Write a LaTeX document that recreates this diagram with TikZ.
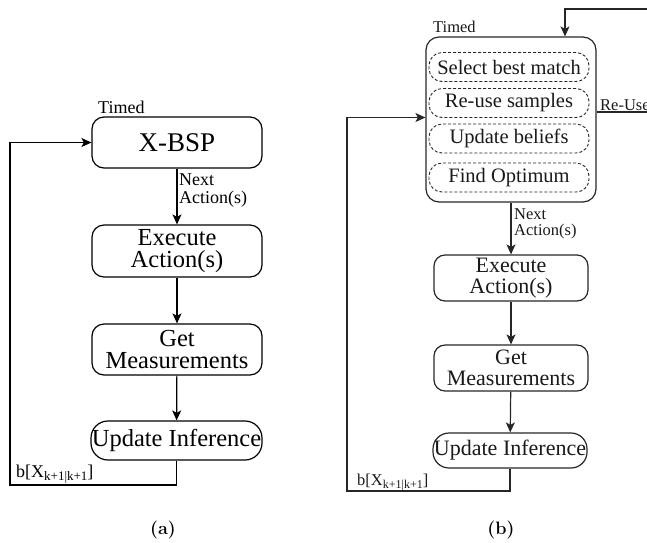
\documentclass[tikz,border=0pt]{standalone}
\usepackage{fontspec}
\setmainfont{Liberation Serif}
\newfontfamily\lmr{Latin Modern Roman}
\usetikzlibrary{arrows.meta}
\tikzset{
  arr/.style={-{Stealth[length=10pt,width=9pt,inset=2.5pt]}, line width=1.2pt},
  lbox/.style={draw, line width=1.2pt, rounded corners=12pt, minimum width=170pt, inner sep=0pt, align=center, font=\rmfamily\fontsize{24.5}{22.5}\selectfont},
  rbox/.style={draw, line width=1.2pt, rounded corners=11pt, minimum width=154pt, minimum height=46pt, inner sep=0pt, align=center, font=\rmfamily\fontsize{22}{20.5}\selectfont},
  dbox/.style={draw, line width=0.9pt, dash pattern=on 3pt off 2pt, rounded corners=13pt, minimum width=160pt, minimum height=29pt, inner sep=0pt, font=\rmfamily\fontsize{20.5}{20}\selectfont},
  lsmall/.style={inner sep=0pt, align=left, font=\rmfamily\fontsize{18}{18}\selectfont},
  rsmall/.style={inner sep=0pt, align=left, font=\rmfamily\fontsize{16.5}{16.5}\selectfont},
  captext/.style={inner sep=0pt, font=\lmr\bfseries\fontsize{18}{18}\selectfont},
}
\begin{document}
\begin{tikzpicture}[x=1pt,y=-1pt]
\useasboundingbox (0,0) rectangle (647,542);
\begin{scope}
\clip (0,0) rectangle (647,542);
% ---------- (a) ----------
\node[lbox, minimum height=51pt, font=\rmfamily\fontsize{27}{27}\selectfont] (xbsp) at (177,142.5) {X-BSP};
\node[lsmall, anchor=base west] (timeda) at (98,113) {Timed};
\node[lbox, minimum height=52pt] (exec) at (177,251) {Execute\\Action(s)};
\node[lbox, minimum height=51pt] (getm) at (177,349.5) {Get\\Measurements};
\node[lbox, minimum height=39pt, minimum width=171pt, rounded corners=17pt] (upd) at (176.5,440.5) {Update Inference};
\node[lsmall, anchor=north west] (nexta) at (179,174) {Next\\Action(s)};
\node[lsmall, anchor=base west] (bxa) at (16,477) {b[X\raisebox{-3pt}{\fontsize{13}{13}\selectfont k+1|k+1}]};
\coordinate (la) at (10,485);
\draw[arr] (xbsp) -- (exec);
\draw[arr] (exec) -- (getm);
\draw[arr] (getm) -- (upd);
\draw[arr] (upd.south) |- (la) |- (xbsp.west);
% ---------- (b) ----------
\begin{scope}[black!85, text=black!90]
\node[draw, line width=1.2pt, rounded corners=13pt, minimum width=170pt, minimum height=165pt, inner sep=0pt] (big) at (511,119.5) {};
\node[rsmall, anchor=base west] (timedb) at (433,32) {Timed};
\node[dbox] (sel) at (509,67) {Select best match};
\node[dbox] (reuse) at (509,103) {Re-use samples};
\node[dbox] (updb) at (509,138.5) {Update beliefs};
\node[dbox] (find) at (509,177.5) {Find Optimum};
\node[rbox] (exec2) at (511,278) {Execute\\Action(s)};
\node[rbox] (get2) at (511,368) {Get\\Measurements};
\node[rbox, minimum height=35pt, rounded corners=16pt] (upd2) at (510,450.5) {Update Inference};
\node[rsmall, anchor=north west] (nextb) at (514,208) {Next\\Action(s)};
\node[rsmall, anchor=base west] (bxb) at (357,485) {b[X\raisebox{-3pt}{\fontsize{12}{12}\selectfont k+1|k+1}]};
\node[rsmall, anchor=base west] (reusel) at (600,110) {Re-Use};
\coordinate (lb) at (347,491);
\coordinate (r1) at (665,112);
\coordinate (r2) at (565,9);
\draw[arr] (big.south -| exec2) -- (exec2);
\draw[arr] (exec2) -- (get2);
\draw[arr] (get2) -- (upd2);
\draw[arr] (upd2.south) |- (lb) |- ([yshift=2pt]big.west);
\draw[arr] ([yshift=7.5pt]big.east) -- (r1) |- (r2) -- ([xshift=54pt]big.north);
\end{scope}
\end{scope}
% captions
\node[captext] (capa) at (163,530) {(a)};
\node[captext] (capb) at (501,530) {(b)};
\end{tikzpicture}
\end{document}
